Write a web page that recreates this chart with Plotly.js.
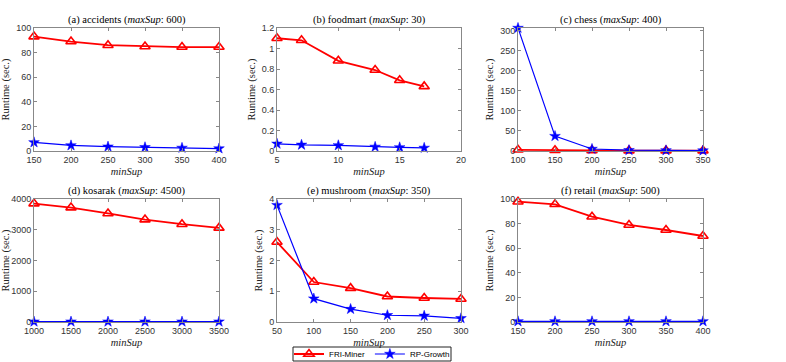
<!DOCTYPE html>
<html>
<head>
<meta charset="utf-8">
<script src="https://cdn.plot.ly/plotly-3.0.1.min.js"></script>
<style>body{margin:0;background:#fff}#myDiv{width:786px;height:362px}</style>
</head>
<body>
<div id="myDiv"></div>
<script>
// panel data
var titles = ["(a) accidents", "(b) foodmart", "(c) chess", "(d) kosarak", "(e) mushroom", "(f) retail"];
var maxSup = [600, 30, 400, 4500, 350, 500];

var xA = [150, 200, 250, 300, 350, 400];
var friA = [93, 89, 86, 85, 84.5, 84.5];
var rpA = [7, 4.5, 3.5, 3, 2.5, 2];

var xB = [5, 7, 10, 13, 15, 17];
var friB = [1.10, 1.08, 0.88, 0.79, 0.69, 0.63];
var rpB = [0.07, 0.06, 0.055, 0.04, 0.035, 0.03];

var xC = [100, 150, 200, 250, 300, 350];
var friC = [3, 2, 1.5, 1, 1, 1];
var rpC = [306, 37, 5, 2, 1.5, 1];

var xD = [1000, 1500, 2000, 2500, 3000, 3500];
var friD = [3850, 3720, 3530, 3330, 3180, 3060];
var rpD = [10, 10, 10, 10, 10, 10];

var xE = [50, 100, 150, 200, 250, 300];
var friE = [2.6, 1.3, 1.1, 0.83, 0.78, 0.75];
var rpE = [3.8, 0.76, 0.42, 0.22, 0.2, 0.12];

var xF = [150, 200, 250, 300, 350, 400];
var friF = [97.8, 95.7, 85.6, 78.9, 74.8, 69.9];
var rpF = [0.5, 0.5, 0.5, 0.5, 0.5, 0.5];

var xs = [xA, xB, xC, xD, xE, xF];
var fris = [friA, friB, friC, friD, friE, friF];
var rps = [rpA, rpB, rpC, rpD, rpE, rpF];

var xRanges = [[150, 400], [5, 20], [100, 350], [1000, 3500], [50, 300], [150, 400]];
var yRanges = [[0, 100], [0, 1.2], [0, 306], [0, 4000], [0, 4], [0, 100]];
var yDticks = [20, 0.2, 50, 1000, 1, 20];

var W = 786, H = 362;
var colsPx = [[34, 219], [277, 461], [518, 703]];
var rowsPx = [[28, 151], [199, 322]];
var legendBox = [293, 451, 347, 361]; // left, right, top, bottom px

var SANS = "Liberation Sans";
var SERIF = "Liberation Serif";

var data = [];
var layout = {
  width: W,
  height: H,
  margin: { l: 0, r: 0, t: 0, b: 0, autoexpand: false },
  paper_bgcolor: "#fff",
  plot_bgcolor: "#fff",
  font: { family: SANS, size: 9, color: "#222" },
  showlegend: true,
  legend: {
    orientation: "h",
    x: (legendBox[0] + legendBox[1]) / 2 / W,
    xanchor: "center",
    y: 1 - (legendBox[2] + legendBox[3]) / 2 / H,
    yanchor: "middle",
    bgcolor: "rgba(0,0,0,0)",
    borderwidth: 0,
    font: { family: SANS, size: 8, color: "#000" },
    tracegroupgap: 0,
  },
  shapes: [
    {
      type: "rect",
      xref: "paper",
      yref: "paper",
      x0: legendBox[0] / W,
      x1: legendBox[1] / W,
      y0: 1 - legendBox[3] / H,
      y1: 1 - legendBox[2] / H,
      line: { color: "#222", width: 1 },
      fillcolor: "#fff",
      layer: "above",
    },
  ],
  annotations: [],
};

for (var i = 0; i < 6; i++) {
  var col = i % 3, row = Math.floor(i / 3);
  var n = i + 1;
  var xa = "x" + (n === 1 ? "" : n), ya = "y" + (n === 1 ? "" : n);
  data.push({
    type: "scatter",
    mode: "lines+markers",
    x: xs[i],
    y: fris[i],
    xaxis: xa,
    yaxis: ya,
    name: "FRI-Miner",
    legendgroup: "fri",
    showlegend: i === 0,
    cliponaxis: false,
    line: { color: "#ff0000", width: 1.8 },
    marker: { symbol: "triangle-up-open", size: 9, color: "#ff0000", line: { width: 1.6 } },
  });
  data.push({
    type: "scatter",
    mode: "lines+markers",
    x: xs[i],
    y: rps[i],
    xaxis: xa,
    yaxis: ya,
    name: "RP-Growth",
    legendgroup: "rp",
    showlegend: i === 0,
    cliponaxis: false,
    line: { color: "#0000ff", width: 1.2 },
    marker: { symbol: "star", size: 8, color: "#0000ff", line: { width: 0.5, color: "#0000ff" } },
  });

  var axCommon = {
    automargin: false,
    showline: true,
    linecolor: "#888",
    linewidth: 1,
    mirror: "allticks",
    ticks: "inside",
    ticklen: 3,
    tickcolor: "#888",
    showgrid: false,
    zeroline: false,
    tickfont: { family: SANS, size: 9, color: "#333" },
  };
  layout["xaxis" + (n === 1 ? "" : n)] = Object.assign({}, axCommon, {
    anchor: ya,
    domain: [colsPx[col][0] / W, colsPx[col][1] / W],
    range: xRanges[i],
    dtick: (xRanges[i][1] - xRanges[i][0]) / (i === 1 ? 3 : 5),
    tick0: xRanges[i][0],
    title: { text: "<i>minSup</i>", font: { family: SERIF, size: 10.5, color: "#222" }, standoff: 3 },
  });
  layout["yaxis" + (n === 1 ? "" : n)] = Object.assign({}, axCommon, {
    anchor: xa,
    domain: [1 - rowsPx[row][1] / H, 1 - rowsPx[row][0] / H],
    range: yRanges[i],
    dtick: yDticks[i],
    tick0: 0,
    title: { text: "Runtime (sec.)", font: { family: SERIF, size: 10.5, color: "#222" }, standoff: 4 },
  });
  layout.annotations.push({
    xref: "paper",
    yref: "paper",
    x: (colsPx[col][0] + colsPx[col][1]) / 2 / W,
    y: 1 - rowsPx[row][0] / H,
    xanchor: "center",
    yanchor: "bottom",
    yshift: 0,
    showarrow: false,
    text: titles[i] + " (<i>maxSup</i>: " + maxSup[i] + ")",
    font: { family: SERIF, size: 10.5, color: "#000" },
  });
}

document.addEventListener("DOMContentLoaded", () => {
  Plotly.newPlot("myDiv", data, layout, { displayModeBar: false, staticPlot: true });
});
</script>
</body>
</html>
